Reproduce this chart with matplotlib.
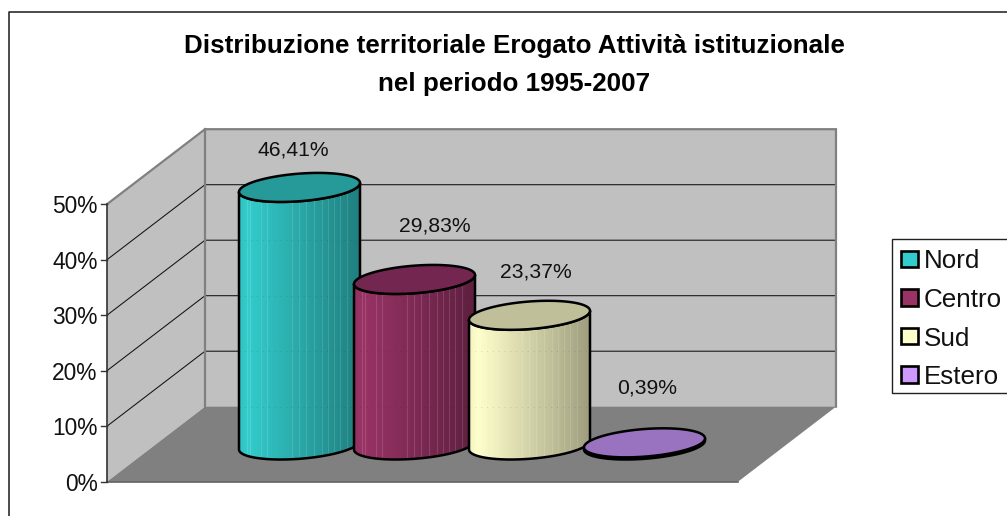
import numpy as np
import matplotlib
matplotlib.use("Agg")
import matplotlib.pyplot as plt
from matplotlib.patches import Polygon, Rectangle

categories = ["Nord", "Centro", "Sud", "Estero"]
values = [46.41, 29.83, 23.37, 0.39]
value_labels = ["46,41%", "29,83%", "23,37%", "0,39%"]
yticks = [0, 10, 20, 30, 40, 50]
ytick_labels = ["0%", "10%", "20%", "30%", "40%", "50%"]
title_lines = ["Distribuzione territoriale Erogato Attività istituzionale", "nel periodo 1995-2007"]
side_colors = ["#33CCCC", "#993366", "#FFFFCC", "#CC99FF"]
top_colors = ["#269999", "#732650", "#BFBF99", "#9973BF"]

W, H = 1007, 516
PX = 5.55
Y0PX = 481.7
FONT = "Liberation Sans"

fig = plt.figure(figsize=(W / 100, H / 100), dpi=100)
ax = fig.add_axes([0, 0, 1, 1])
ylim = ((Y0PX - H) / PX, Y0PX / PX)
ax.set_xlim(0, W)
ax.set_ylim(*ylim)
ax.axis("off")

def up(px):
    return (Y0PX - px) / PX

FX0, FX1 = 107.0, 738.0
DX, DY = 98.0, 75.0 / PX
YMAX = yticks[-1]

# chart-area frame (only left and top fall inside the picture)
ax.plot([8.5, 8.5, W + 5], [up(H + 5), up(11.5), up(11.5)], color="#1a1a1a", lw=1.1, zorder=1)

# walls and floor
ax.add_patch(Polygon([(FX0 + DX, DY), (FX1 + DX, DY), (FX1 + DX, YMAX + DY), (FX0 + DX, YMAX + DY)],
                     fc="#C0C0C0", ec="none", zorder=2))
ax.add_patch(Polygon([(FX0, 0), (FX0 + DX, DY), (FX0 + DX, YMAX + DY), (FX0, YMAX)],
                     fc="#C0C0C0", ec="none", zorder=2))
ax.add_patch(Polygon([(FX0, 0), (FX1, 0), (FX1 + DX, DY), (FX0 + DX, DY)],
                     fc="#808080", ec="none", zorder=2))

# gridlines
for t in yticks[1:-1]:
    ax.plot([FX0, FX0 + DX, FX1 + DX], [t, t + DY, t + DY], color="#111111", lw=0.75, zorder=3)

# wall edges
G = "#808080"
ax.plot([FX0, FX0 + DX, FX1 + DX, FX1 + DX], [YMAX, YMAX + DY, YMAX + DY, DY],
        color=G, lw=1.6, zorder=3, solid_joinstyle="miter")
ax.plot([FX0 + DX, FX0 + DX], [DY, YMAX + DY], color=G, lw=1.6, zorder=3)
ax.plot([FX0, FX1], [0, 0], color="#555555", lw=1.1, zorder=3)

# value axis
ax.plot([FX0, FX0], [0, YMAX], color="#333333", lw=1.2, zorder=4)
for t, lab in zip(yticks, ytick_labels):
    ax.plot([FX0 - 6, FX0], [t, t], color="#333333", lw=1.0, zorder=4)
    ax.text(FX0 - 9.5, t, lab, ha="right", va="center_baseline", family=FONT, fontsize=16.4, color="#111111", zorder=5)

# cylinders
centers = [299.5, 414.5, 529.5, 644.5]
A = 60.5
TILT = 4.5 / PX
S = 13.8 / PX
BASE = up(445.0)
label_pos = [(293, 148.5), (435, 223.5), (536, 269.5), (647, 385.5)]
stripes = np.array([7.7, 11, 21.7, 27.7, 52.7, 60, 67, 75, 82.7, 89.3, 95, 101, 108]) / 121.0

def shade(color, f):
    c = np.array(matplotlib.colors.to_rgb(color))
    return np.clip(c[None, :] * f[:, None], 0, 1)

for i, (cat, v) in enumerate(zip(categories, values)):
    cx = centers[i]
    top = BASE + v
    t_low = np.linspace(np.pi, 2 * np.pi, 80)
    t_all = np.linspace(0, 2 * np.pi, 160)
    xl = cx + A * np.cos(t_low)
    yl = BASE + TILT * np.cos(t_low) + S * np.sin(t_low)
    xu = cx + A * np.cos(t_low[::-1])
    yu = top + TILT * np.cos(t_low[::-1]) + S * np.sin(t_low[::-1])
    body = np.column_stack([np.r_[xl, xu], np.r_[yl, yu]])
    z = 10 + i * 2
    patch = Polygon(body, closed=True, fc=side_colors[i], ec="none", zorder=z)
    ax.add_patch(patch)
    prof_x = np.linspace(0, 1, 240)
    prof = np.interp(prof_x, [0, 0.07, 1], [0.95, 1.0, 0.62])
    img = shade(side_colors[i], prof)[None, :, :]
    im = ax.imshow(img, extent=[cx - A, cx + A, BASE - S - TILT - 1, top + S], aspect="auto", zorder=z,
                   interpolation="bilinear")
    im.set_clip_path(patch)
    if v > 2:
        for s in stripes:
            ln, = ax.plot([cx - A + s * 2 * A] * 2, [BASE - S - 2, top + 1], color="white", alpha=0.13, lw=0.8, zorder=z)
            ln.set_clip_path(patch)
        for g in yticks[:-1]:
            if g + DY < top:
                ln, = ax.plot([cx - A, cx + A], [g + DY, g + DY], color="black", alpha=0.12, lw=0.7,
                              ls=(0, (1, 5)), zorder=z)
                ln.set_clip_path(patch)
    ax.add_patch(Polygon(body, closed=True, fc="none", ec="black", lw=1.8, zorder=z + 0.5, joinstyle="round"))
    ex = cx + A * np.cos(t_all)
    ey = top + TILT * np.cos(t_all) + S * np.sin(t_all)
    ax.add_patch(Polygon(np.column_stack([ex, ey]), closed=True, fc=top_colors[i], ec="black", lw=1.8, zorder=z + 1))
    lx, ly = label_pos[i]
    ax.text(lx, up(ly), value_labels[i], ha="center", va="center_baseline", family=FONT, fontsize=15.2,
            color="#111111", zorder=30)

# title
for line, py in zip(title_lines, [44, 81]):
    ax.text(514.5, up(py), line, ha="center", va="center_baseline", family=FONT, fontsize=18.7,
            fontweight="bold", color="black", zorder=30)

# legend
ax.add_patch(Rectangle((892, up(393)), W + 10 - 892, up(239) - up(393), fc="white", ec="#222222", lw=1.0, zorder=20))
for cat, col, py in zip(categories, side_colors, [259, 297.5, 336, 374.5]):
    ax.add_patch(Rectangle((901, up(py + 8.3)), 16.5, 16.5 / PX, fc=col, ec="black", lw=1.9, zorder=21))
    ax.text(923.5, up(py), cat, ha="left", va="center_baseline", family=FONT, fontsize=18.7, color="#111111", zorder=22)

ax.set_xlim(0, W)
ax.set_ylim(*ylim)
fig.savefig("out.png", dpi=100, facecolor="white")
